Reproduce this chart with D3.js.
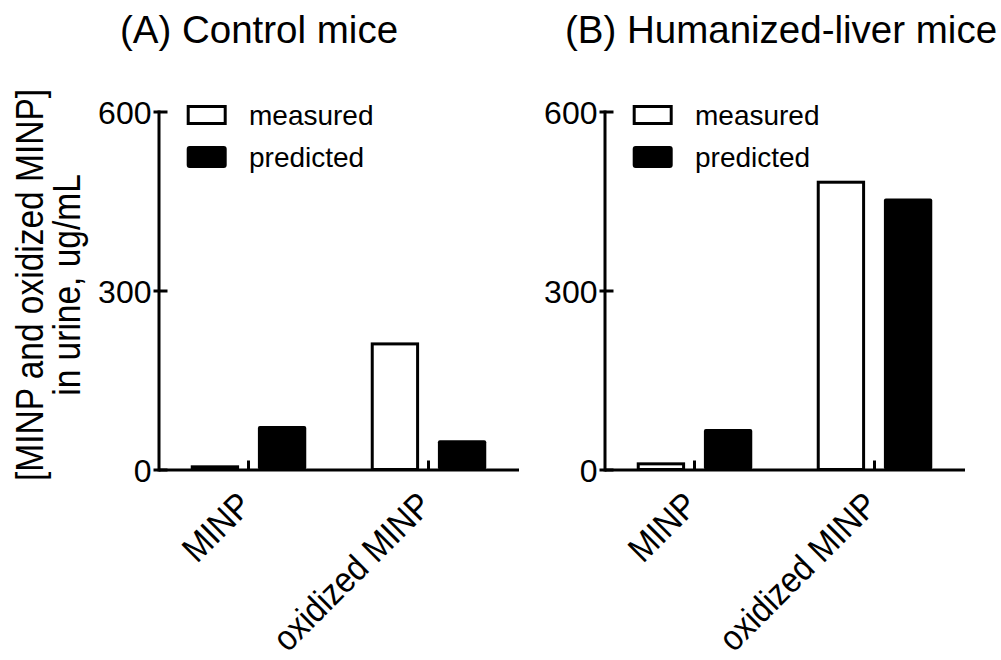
<!DOCTYPE html>
<html>
<head>
<meta charset="utf-8">
<script src="https://cdn.jsdelivr.net/npm/d3@7"></script>
<style>
  html, body { margin: 0; padding: 0; background: #fff; }
  svg { display: block; font-family: "Liberation Sans", Arial, Helvetica, sans-serif; }
</style>
</head>
<body>
<svg id="chart" width="1001" height="660"></svg>
<script>
// Urine concentrations (ug/mL) of MINP and oxidized MINP
const categories = ["MINP", "oxidized MINP"];
const seriesNames = ["measured", "predicted"];
const controlMeasured = [7, 213];
const controlPredicted = [73, 49];
const humanizedMeasured = [12, 484];
const humanizedPredicted = [68, 454];
const yTicks = [0, 300, 600];
const panelTitles = ["(A) Control mice", "(B) Humanized-liver mice"];
const yTitleLines = ["[MINP and oxidized MINP]", "in urine, ug/mL"];

const panels = [
  { title: panelTitles[0], measured: controlMeasured, predicted: controlPredicted, axisX: 158.5, titleX: 259 },
  { title: panelTitles[1], measured: humanizedMeasured, predicted: humanizedPredicted, axisX: 604.5, titleX: 781 }
];

const svg = d3.select("#chart");
const y = d3.scaleLinear().domain([0, 600]).range([469.5, 111.5]);
const plotWidth = 360;
const lw = 3;

// Shared y-axis title (two lines, rotated)
const yTitle = svg.append("g").attr("transform", "translate(43,285) rotate(-90) scale(1,1.18)");
yTitleLines.forEach((t, i) => {
  yTitle.append("text")
    .attr("x", 0).attr("y", i * 31.5)
    .attr("text-anchor", "middle")
    .style("font-size", "33.5px")
    .text(t);
});

panels.forEach(p => {
  const g = svg.append("g");
  const x0 = p.axisX;

  // panel title
  g.append("text")
    .attr("x", p.titleX).attr("y", 43)
    .attr("text-anchor", "middle")
    .style("font-size", "38.5px")
    .text(p.title);

  const x = d3.scaleBand().domain(categories).range([x0, x0 + plotWidth]).padding(0);
  const xs = d3.scaleBand().domain(seriesNames).range([0, x.bandwidth()])
    .paddingInner(0.28).paddingOuter(0.48);

  const rows = categories.map((c, i) => ({ cat: c, measured: p.measured[i], predicted: p.predicted[i] }));

  // bars
  rows.forEach(r => {
    const bx = x(r.cat);
    // measured: open bar
    g.append("rect")
      .attr("x", bx + xs("measured") + lw / 2)
      .attr("y", y(r.measured) + lw / 2)
      .attr("width", xs.bandwidth() - lw)
      .attr("height", Math.max(0, y(0) - y(r.measured) - lw / 2))
      .attr("fill", "#fff").attr("stroke", "#000").attr("stroke-width", lw);
    // predicted: filled bar
    g.append("rect")
      .attr("x", bx + xs("predicted"))
      .attr("y", y(r.predicted))
      .attr("width", xs.bandwidth())
      .attr("height", y(0) - y(r.predicted))
      .attr("rx", 2)
      .attr("fill", "#000");
  });

  // y axis
  const ya = g.append("g")
    .attr("transform", `translate(${x0},0)`)
    .call(d3.axisLeft(y).tickValues(yTicks).tickSizeOuter(0).tickPadding(7));
  ya.attr("font-family", null).attr("font-size", null);
  ya.select(".domain").attr("stroke-width", lw).attr("stroke-linecap", "square");
  ya.selectAll(".tick line").attr("x1", -5).attr("x2", 9).attr("stroke-width", lw);
  ya.selectAll(".tick text")
    .style("font-size", "32px")
    .attr("x", -7).attr("dy", "0.36em");

  // x axis with inward category ticks and slanted labels
  const xa = g.append("g")
    .attr("transform", `translate(0,${y(0)})`)
    .call(d3.axisBottom(x).tickSizeInner(-9).tickSizeOuter(0));
  xa.attr("font-family", null).attr("font-size", null);
  xa.select(".domain").attr("stroke-width", lw);
  xa.selectAll(".tick line").attr("stroke-width", lw);
  xa.selectAll(".tick text")
    .style("font-size", "32px")
    .attr("text-anchor", "end")
    .attr("x", 0).attr("y", 0).attr("dy", 0)
    .attr("transform", "translate(5,38) rotate(-45) scale(1,1.12)");

  // legend
  const lg = g.append("g").attr("transform", `translate(${x0},0)`);
  lg.append("rect")
    .attr("x", 28.2 + lw / 2).attr("y", 105 + lw / 2)
    .attr("width", 40 - lw).attr("height", 20 - lw)
    .attr("fill", "#fff").attr("stroke", "#000").attr("stroke-width", lw);
  lg.append("rect")
    .attr("x", 28.2).attr("y", 146)
    .attr("width", 40).attr("height", 22).attr("rx", 3)
    .attr("fill", "#000");
  lg.append("text").attr("x", 90.5).attr("y", 125).style("font-size", "28px").text(seriesNames[0]);
  lg.append("text").attr("x", 90.5).attr("y", 166.5).style("font-size", "28px").text(seriesNames[1]);
});
</script>
</body>
</html>
